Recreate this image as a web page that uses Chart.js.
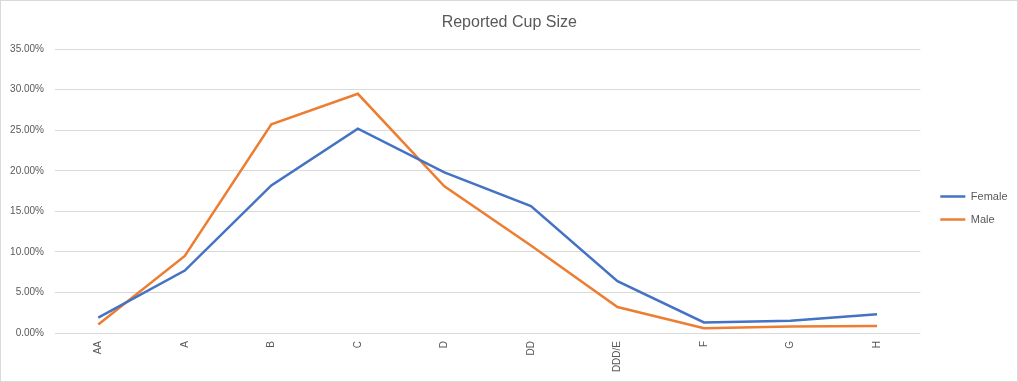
<!DOCTYPE html>
<html>
<head>
<meta charset="utf-8">
<script src="https://cdn.jsdelivr.net/npm/chart.js@4/dist/chart.umd.min.js"></script>
<style>
  html, body { margin: 0; padding: 0; background: #fff; }
  #wrap { width: 1016px; height: 380px; border: 1px solid #d9d9d9; }
  canvas { display: block; }
</style>
</head>
<body>
<div id="wrap"><canvas id="c" width="1016" height="380"></canvas></div>
<script>
const categories = ["AA", "A", "B", "C", "D", "DD", "DDD/E", "F", "G", "H"];
const femaleValues = [1.9, 7.7, 18.2, 25.2, 19.8, 15.65, 6.4, 1.3, 1.5, 2.3];
const maleValues = [1.05, 9.5, 25.75, 29.5, 18.1, 10.8, 3.2, 0.6, 0.8, 0.85];
const yTicks = [0, 5, 10, 15, 20, 25, 30, 35];
const chartTitle = "Reported Cup Size";

const textColor = "#595959";
const fontFamily = "'Liberation Sans', 'DejaVu Sans', sans-serif";

const legendShift = {
  id: "legendShift",
  afterLayout(chart) {
    const lg = chart.legend;
    if (!lg) return;
    lg.left += 8; lg.right += 8;
    lg.top += 19; lg.bottom += 19;
  }
};

new Chart(document.getElementById("c"), {
  type: "line",
  data: {
    labels: categories,
    datasets: [
      { label: "Female", data: femaleValues, borderColor: "#4472C4", backgroundColor: "#4472C4",
        borderWidth: 2.5, pointRadius: 0, tension: 0, pointStyle: "line" },
      { label: "Male", data: maleValues, borderColor: "#ED7D31", backgroundColor: "#ED7D31",
        borderWidth: 2.5, pointRadius: 0, tension: 0, pointStyle: "line" }
    ]
  },
  plugins: [legendShift],
  options: {
    responsive: false,
    animation: false,
    layout: { padding: { left: 8, right: 7.5, top: 4, bottom: 8 } },
    plugins: {
      title: {
        display: true, text: chartTitle, color: textColor,
        font: { family: fontFamily, size: 16, weight: "normal" },
        padding: { top: 8, bottom: 17 }
      },
      legend: {
        position: "right",
        align: "center",
        labels: {
          usePointStyle: true,
          pointStyleWidth: 25,
          color: textColor,
          font: { family: fontFamily, size: 11 },
          padding: 12,
          boxHeight: 11
        }
      },
      tooltip: { enabled: false }
    },
    scales: {
      x: {
        offset: true,
        grid: { display: false, drawTicks: false, offset: true },
        border: { display: false },
        ticks: {
          color: textColor, font: { family: fontFamily, size: 10 },
          minRotation: 90, maxRotation: 90, padding: 8, autoSkip: false
        },
        afterFit: (scale) => { scale.height = 40; }
      },
      y: {
        min: 0, max: 35,
        afterBuildTicks: (scale) => { scale.ticks = yTicks.map(v => ({ value: v })); },
        grid: { color: "#d9d9d9", drawTicks: false, lineWidth: 1 },
        border: { display: false },
        ticks: {
          color: textColor, font: { family: fontFamily, size: 10 },
          padding: 11,
          callback: (v) => v.toFixed(2) + "%"
        },
        afterFit: (scale) => { scale.width = 46; }
      }
    }
  }
});
</script>
</body>
</html>
